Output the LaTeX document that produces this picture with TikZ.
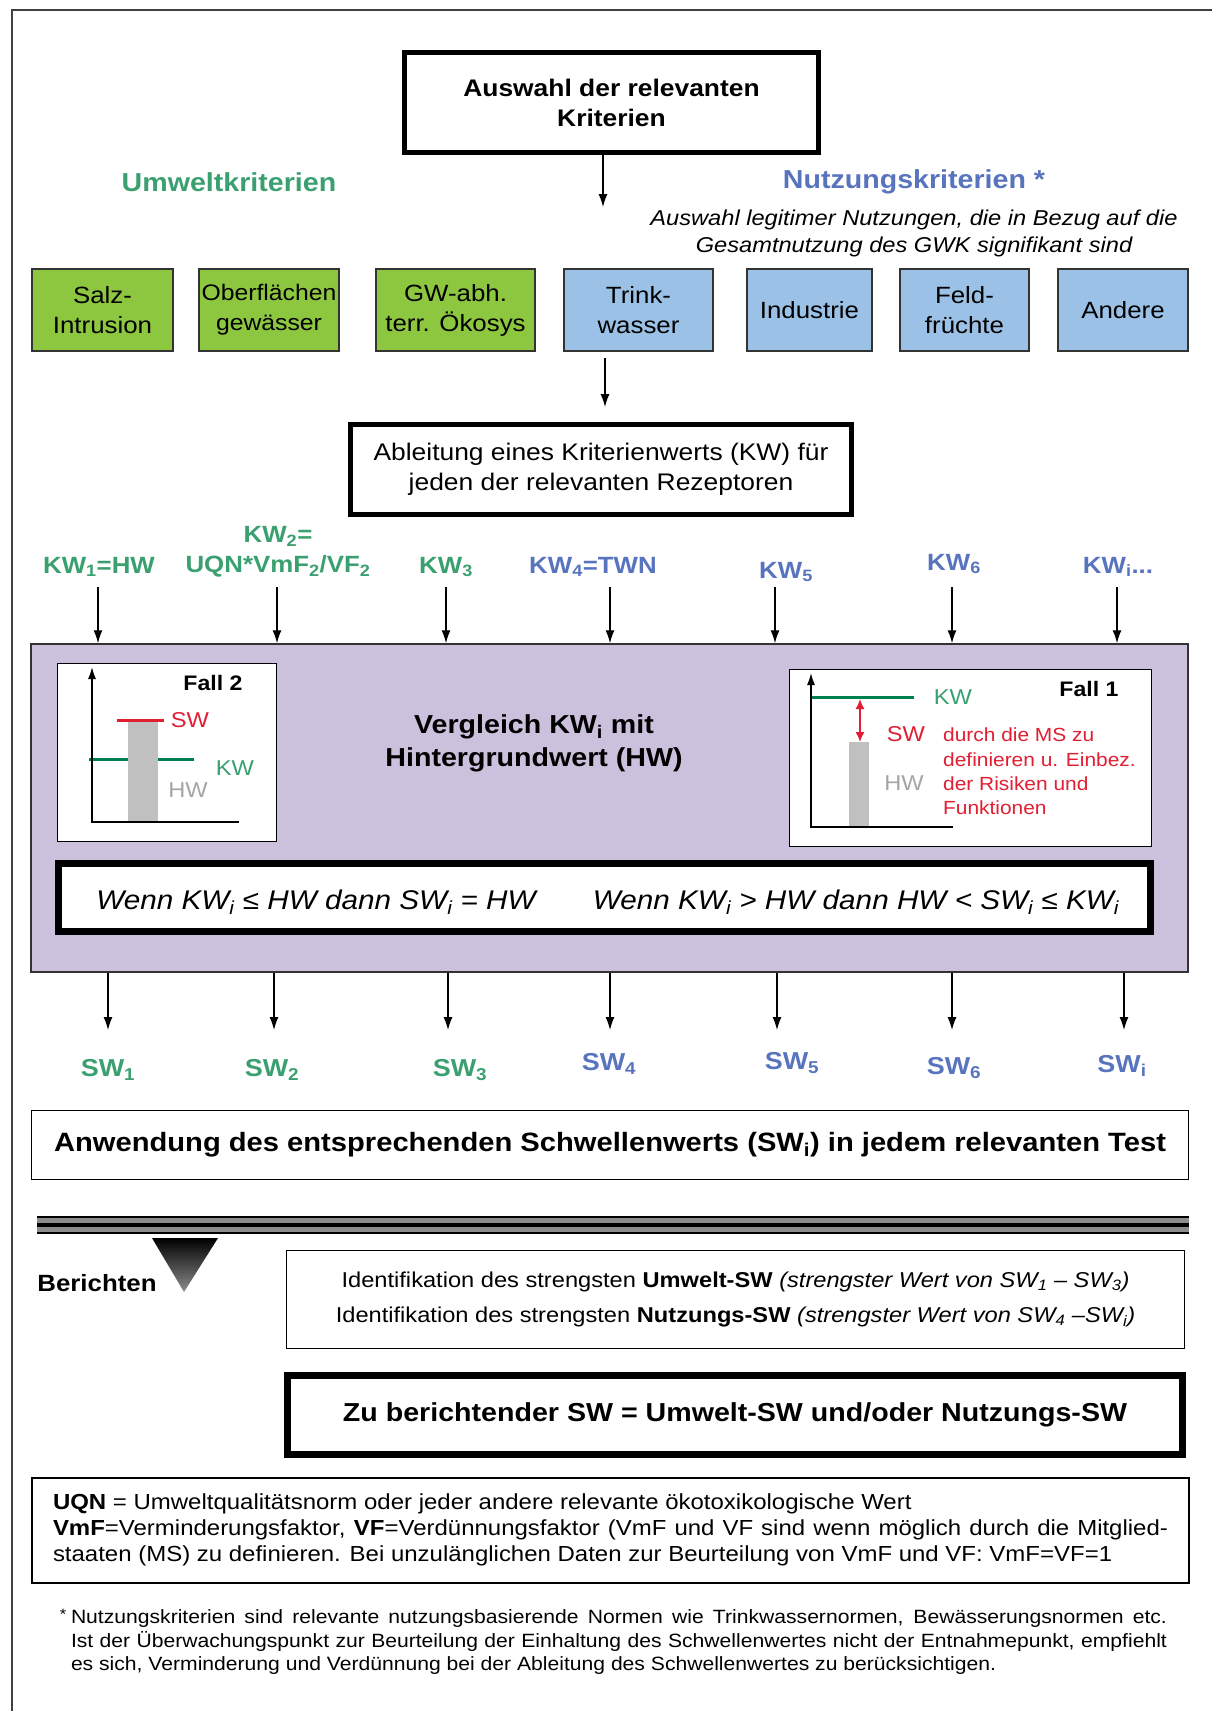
\documentclass[tikz,border=0pt]{standalone}
\usepackage{fontspec}
\setmainfont{Liberation Sans}[FakeStretch=1.1]
\usetikzlibrary{arrows.meta}
%% colours
\definecolor{umweltgruen}{RGB}{141,198,63}
\definecolor{nutzblau}{RGB}{155,194,230}
\definecolor{umwelttext}{RGB}{58,160,112}
\definecolor{nutztext}{RGB}{88,116,190}
\definecolor{lilafarbe}{RGB}{204,193,221}
\definecolor{swrot}{RGB}{226,30,50}
\definecolor{hwgrau}{RGB}{165,165,165}
\definecolor{balkengrau}{RGB}{192,192,192}
\definecolor{kwlinie}{RGB}{0,128,80}
\newcommand{\unten}[1]{\textsubscript{#1}}
\newcommand{\schrift}[2]{\fontsize{#1}{#2}\selectfont}
\begin{document}
\begin{tikzpicture}
[x=1pt,y=-1pt,
  dickboxdecorate/.style={shape=rectangle,draw,inner sep=0pt,align=center,fill=white},
  rezeptordecorate/.style={shape=rectangle,draw=black!80,line width=1.5pt,inner sep=0pt,minimum height=82pt,align=center},
  duennboxdecorate/.style={shape=rectangle,draw,line width=1.5pt,inner sep=0pt,align=center,fill=white},
  labeldecorate/.style={inner sep=0pt,align=center,font=\bfseries\schrift{23.5}{30}},
  pfeildecorate/.style={-{Latex[length=13pt,width=9pt]},line width=1.3pt},
  achsedecorate/.style={-{Latex[length=12pt,width=8pt]},line width=1.5pt}]
\useasboundingbox (0,0) rectangle (1212,1711);
%% frame
\draw[line width=2.5pt,black!75] (12,1711) -- (12,10) -- (1212,10);
%% selection of the criteria
\node (auswahl) at (611.5,102.5) [dickboxdecorate,line width=5pt,minimum width=414pt,
  minimum height=100pt,font=\bfseries\schrift{24}{30}] {Auswahl der relevanten\\Kriterien};
\node (umwelt) at (229,182) [text=umwelttext,font=\bfseries\schrift{26}{31}] {Umweltkriterien};
\node (nutzung) at (914,182) [text=nutztext,font=\bfseries\schrift{26}{31}] {Nutzungskriterien *};
\node (legitim) at (914,233.5) [align=center,font=\itshape\schrift{21.5}{27}]
  {Auswahl legitimer Nutzungen, die in Bezug auf die\\Gesamtnutzung des GWK signifikant sind};
\coordinate (auswahlpfeil) at (603,207);
\draw[pfeildecorate] (auswahlpfeil |- auswahl.south) -- (auswahlpfeil);
%% receptors
\foreach \nodename/\x/\w/\farbe/\gr/\beschrift in {
  salz/102.5/141/umweltgruen/23.5/{Salz-\\Intrusion},
  ober/269/140/umweltgruen/22.5/{Oberflächen\\gewässer},
  gwabh/455.5/159/umweltgruen/23.5/{GW-abh.\\terr. Ökosys},
  trink/638.5/149/nutzblau/23.5/{Trink-\\wasser},
  industrie/809.5/125/nutzblau/23.5/{Industrie},
  feld/964.5/129/nutzblau/23.5/{Feld-\\früchte},
  andere/1123/130/nutzblau/23.5/{Andere}} {
  \node (\nodename) at (\x,310) [rezeptordecorate,minimum width=\w pt,fill=\farbe,
    font=\schrift{\gr}{30}] {\beschrift};
}
\coordinate (rezeptorpfeil) at (605,358);
\node (ableit) at (601,469.5) [dickboxdecorate,line width=5pt,minimum width=501pt,
  minimum height=90pt,font=\schrift{24}{30}]
  {Ableitung eines Kriterienwerts (KW) für\\jeden der relevanten Rezeptoren};
\draw[pfeildecorate,shorten >=15pt] (rezeptorpfeil) -- (rezeptorpfeil |- ableit.north);
%% comparison
\node (lila) at (609.5,808) [shape=rectangle,draw=black!80,line width=1.5pt,fill=lilafarbe,
  minimum width=1157pt,minimum height=328pt] {};
\foreach \nodename/\x/\y/\ax/\farbe/\beschrift in {
  kw1/99/567/98/umwelttext/{KW\unten{1}=HW},
  kw2/278/552/277/umwelttext/{KW\unten{2}=\\UQN*VmF\unten{2}/VF\unten{2}},
  kw3/446/567/446/umwelttext/{KW\unten{3}},
  kw4/593/567/610/nutztext/{KW\unten{4}=TWN},
  kw5/786/572/775/nutztext/{KW\unten{5}},
  kw6/954/564/952/nutztext/{KW\unten{6}},
  kwi/1118/567/1117/nutztext/{KW\unten{i}...}} {
  \node (\nodename) at (\x,\y) [labeldecorate,text=\farbe] {\beschrift};
  \coordinate (pfeil\nodename) at (\ax,587);
}
\path
\foreach \nodename in {kw1,kw2,kw3,kw4,kw5,kw6,kwi} {
  (pfeil\nodename) edge[pfeildecorate] (pfeil\nodename |- lila.north)
};
\node (vergleich) at (534,743.5) [align=center,font=\bfseries\schrift{26}{33}]
  {Vergleich KW\unten{i} mit\\Hintergrundwert (HW)};
%% case 2
\node (fall2) at (167,752.5) [duennboxdecorate,minimum width=219pt,minimum height=178pt] {};
\draw[line width=3pt,kwlinie] (89,759) -- (194,759);
\fill[balkengrau] (128,720) rectangle (158,822);
\draw[line width=3pt,swrot] (117,720) -- (164,720);
\draw[achsedecorate] (239,822) -- (92,822) -- (92,667);
\node (fall2titel) at (213,683) [font=\bfseries\schrift{21}{25}] {Fall 2};
\node (fall2sw) at (190,720) [text=swrot,font=\schrift{21.5}{25}] {SW};
\node (fall2kw) at (235,768) [text=umwelttext,font=\schrift{21.5}{25}] {KW};
\node (fall2hw) at (188,790) [text=hwgrau,font=\schrift{21.5}{25}] {HW};
%% case 1
\node (fall1) at (970.5,758) [duennboxdecorate,minimum width=362pt,minimum height=177pt] {};
\draw[line width=3pt,kwlinie] (811,697) -- (914,697);
\fill[balkengrau] (849,742) rectangle (869,827);
\draw[achsedecorate] (953,827) -- (811,827) -- (811,673);
\draw[{Latex[length=10pt,width=9pt]}-{Latex[length=10pt,width=9pt]},line width=1.5pt,swrot]
  (860,699) -- (860,742);
\node (fall1titel) at (1089,689) [font=\bfseries\schrift{21}{25}] {Fall 1};
\node (fall1kw) at (953,697) [text=umwelttext,font=\schrift{21.5}{25}] {KW};
\node (fall1sw) at (906,734) [text=swrot,font=\schrift{21.5}{25}] {SW};
\node (fall1hw) at (904,783) [text=hwgrau,font=\schrift{21.5}{25}] {HW};
\node (fall1text) at (943,771.5) [anchor=west,inner sep=0pt,align=left,text=swrot,
  font=\schrift{19}{24.3}] {durch die MS zu\\definieren u. Einbez.\\der Risiken und\\Funktionen};
%% conditions
\node (bed) at (604.5,897.5) [dickboxdecorate,line width=7pt,minimum width=1092pt,
  minimum height=68pt] {};
\node (bedlinks) at (316,902) [font=\itshape\schrift{27}{32}]
  {Wenn KW\unten{i} ≤ HW dann SW\unten{i} = HW};
\node (bedrechts) at (856,902) [font=\itshape\schrift{27}{32}]
  {Wenn KW\unten{i} > HW dann HW < SW\unten{i} ≤ KW\unten{i}};
%% threshold values
\foreach \nodename/\x/\y/\ax/\farbe/\beschrift in {
  sw1/108/1070/108/umwelttext/{SW\unten{1}},
  sw2/272/1070/274/umwelttext/{SW\unten{2}},
  sw3/460/1070/448/umwelttext/{SW\unten{3}},
  sw4/609/1064/610/nutztext/{SW\unten{4}},
  sw5/792/1063/777/nutztext/{SW\unten{5}},
  sw6/954/1068/952/nutztext/{SW\unten{6}},
  swi/1122/1066/1124/nutztext/{SW\unten{i}}} {
  \node (\nodename) at (\x,\y) [labeldecorate,font=\bfseries\schrift{24.5}{30},text=\farbe] {\beschrift};
  \coordinate (pfeil\nodename) at (\ax,1030);
}
\path
\foreach \nodename in {sw1,sw2,sw3,sw4,sw5,sw6,swi} {
  (pfeil\nodename |- lila.south) edge[pfeildecorate] (pfeil\nodename)
};
\node (anwendung) at (610,1145) [duennboxdecorate,minimum width=1157pt,minimum height=69pt,
  font=\bfseries\schrift{26.5}{32}]
  {Anwendung des entsprechenden Schwellenwerts (SW\unten{i}) in jedem relevanten Test};
%% reporting
\draw[line width=17pt,black!45] (37,1225) -- (1189,1225);
\draw[line width=2pt] (37,1217) -- (1189,1217);
\draw[line width=4pt] (37,1225) -- (1189,1225);
\draw[line width=2.5pt] (37,1233) -- (1189,1233);
\shade[top color=black,bottom color=black!45] (152,1238) -- (218,1238) -- (184,1292) -- cycle;
\node (berichten) at (97,1283) [font=\bfseries\schrift{23.5}{28}] {Berichten};
\node (ident) at (735.5,1299.5) [duennboxdecorate,minimum width=898pt,minimum height=98pt,
  font=\schrift{21.5}{35}]
  {Identifikation des strengsten \textbf{Umwelt-SW} \textit{(strengster Wert von SW\unten{1} – SW\unten{3})}\\
   Identifikation des strengsten \textbf{Nutzungs-SW} \textit{(strengster Wert von SW\unten{4} –SW\unten{i})}};
\node (zuber) at (735,1415) [dickboxdecorate,line width=7pt,minimum width=895pt,
  minimum height=79pt,font=\bfseries\schrift{26}{32}]
  {Zu berichtender SW = Umwelt-SW und/oder Nutzungs-SW};
%% notes
\node (uqn) at (610.5,1530) [duennboxdecorate,line width=2pt,minimum width=1157pt,
  minimum height=105pt,text width=1115pt,align=justify,font=\schrift{21.8}{26}]
  {\textbf{UQN} = Umweltqualitätsnorm oder jeder andere relevante ökotoxikologische Wert\newline
   \textbf{VmF}=Verminderungsfaktor, \textbf{VF}=Verdünnungsfaktor (VmF und VF sind wenn möglich durch die Mitglied-\linebreak
   staaten (MS) zu definieren. Bei unzulänglichen Daten zur Beurteilung von VmF und VF: VmF=VF=1};
\node (stern) at (63,1614) [font=\schrift{15}{18}] {*};
\node (fussnote) at (619,1642.5) [inner sep=0pt,text width=1096pt,align=justify,
  font=\schrift{19.2}{23.5}]
  {Nutzungskriterien sind relevante nutzungsbasierende Normen wie Trinkwassernormen, Bewässerungsnormen etc.\linebreak
   Ist der Überwachungspunkt zur Beurteilung der Einhaltung des Schwellenwertes nicht der Entnahmepunkt, empfiehlt\linebreak
   es sich, Verminderung und Verdünnung bei der Ableitung des Schwellenwertes zu berücksichtigen.};
\end{tikzpicture}
\end{document}
